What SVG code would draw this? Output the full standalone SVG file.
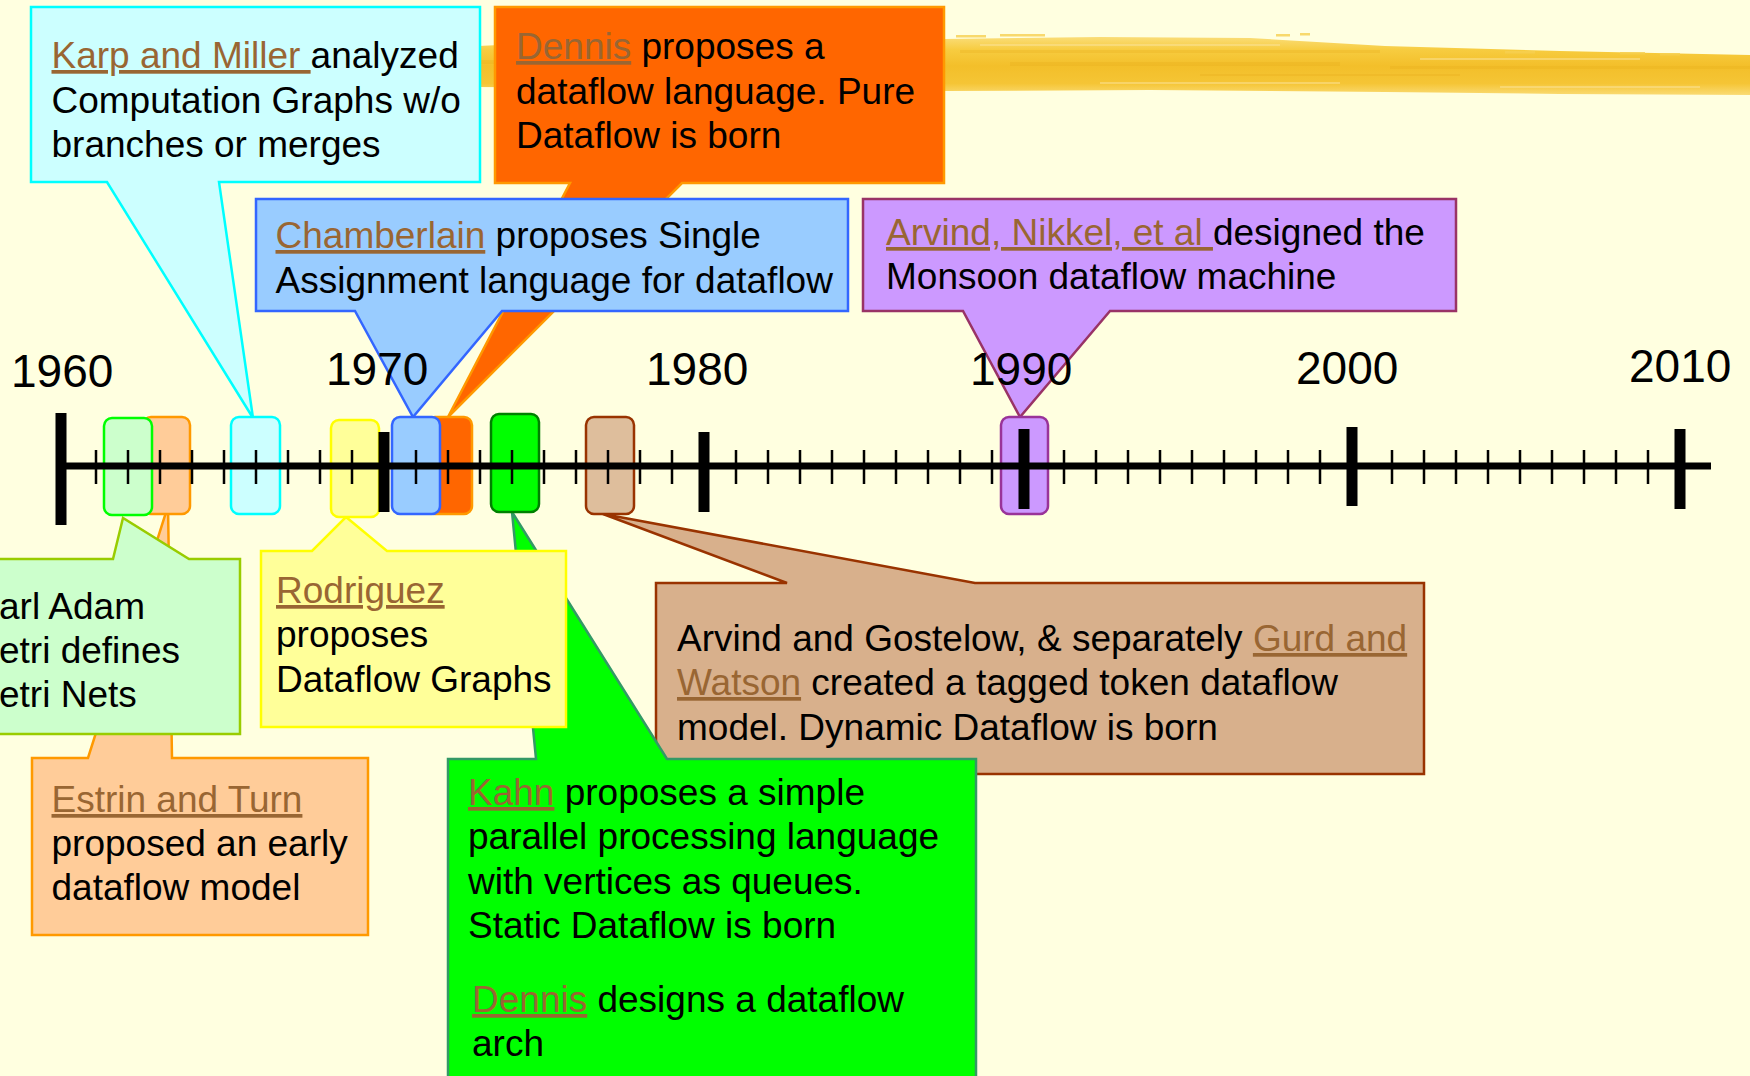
<svg xmlns="http://www.w3.org/2000/svg" width="1750" height="1076" viewBox="0 0 1750 1076">
  <defs>
    <linearGradient id="brushGrad" x1="0" y1="0" x2="0" y2="1">
      <stop offset="0" stop-color="#FADD78"/>
      <stop offset="0.22" stop-color="#F7CC40"/>
      <stop offset="0.5" stop-color="#F3BF2A"/>
      <stop offset="0.8" stop-color="#F5C535"/>
      <stop offset="1" stop-color="#FADB74"/>
    </linearGradient>
    <style>
      .t { font-family: "Liberation Sans", Arial, sans-serif; font-size: 37px; fill: #000; }
      .yr { font-family: "Liberation Sans", Arial, sans-serif; font-size: 46px; fill: #000; }
      .lnk { fill: #996633; text-decoration: underline; }
      .call { stroke-width: 2.5; stroke-linejoin: miter; }
      .mark { stroke-width: 2.5; }
    </style>
  </defs>

  <!-- page background -->
  <rect width="1750" height="1076" fill="#FFFFE0"/>

  <!-- dry-brush stroke across the top -->
  <g id="brush">
    <path d="M478,46 L560,42 L944,39 L1100,37 L1250,38 L1385,46 L1560,51 L1750,55 L1750,95 L1560,94 L1385,92 L1150,90 L944,91 L700,89 L478,87 Z" fill="url(#brushGrad)"/>
    <g fill="#E9AE1C" opacity="0.3">
      <rect x="960" y="50" width="420" height="3"/>
      <rect x="1010" y="62" width="330" height="4"/>
      <rect x="1390" y="66" width="360" height="3"/>
      <rect x="1200" y="74" width="260" height="2"/>
      <rect x="478" y="60" width="20" height="4"/>
    </g>
    <g fill="#FBE49C" opacity="0.5">
      <rect x="980" y="44" width="300" height="2"/>
      <rect x="1100" y="82" width="240" height="2"/>
      <rect x="1420" y="58" width="220" height="2"/>
      <rect x="1500" y="86" width="200" height="2"/>
    </g>
    <g fill="#F7D050" opacity="0.8">
      <rect x="956" y="35" width="30" height="2.5"/>
      <rect x="1000" y="34" width="45" height="2.5"/>
      <rect x="1276" y="34" width="14" height="2.5"/>
      <rect x="1300" y="33" width="10" height="2.5"/>
      <rect x="1505" y="51" width="30" height="2.5"/>
      <rect x="1620" y="52" width="25" height="2.5"/>
      <rect x="1660" y="53" width="20" height="2.5"/>
    </g>
  </g>

  <!-- callouts above the axis -->
  <g id="karp-miller">
    <path class="call" d="M31,7 H480 V182 H219 L253,418 L107,182 H31 Z" fill="#CCFFFF" stroke="#00FFFF"/>
    <rect class="mark" x="231" y="417" width="49" height="97" rx="8" fill="#CCFFFF" stroke="#00FFFF"/>
    <text class="t" x="51.5" y="68"><tspan class="lnk">Karp and Miller </tspan>analyzed</text>
    <text class="t" x="51.5" y="112.5">Computation Graphs w/o</text>
    <text class="t" x="51.5" y="157">branches or merges</text>
  </g>

  <g id="dennis-language">
    <path class="call" d="M495,7 H944 V183 H682 L448,417 L570,183 H495 Z" fill="#FF6600" stroke="#FF9900"/>
    <rect class="mark" x="427" y="417" width="45" height="97" rx="8" fill="#FF6600" stroke="#FF9900"/>
    <text class="t" x="516" y="59"><tspan class="lnk">Dennis</tspan> proposes a</text>
    <text class="t" x="516" y="103.5">dataflow language. Pure</text>
    <text class="t" x="516" y="148">Dataflow is born</text>
  </g>

  <g id="chamberlain">
    <path class="call" d="M256,199 H848 V311 H502 L413,417 L355,311 H256 Z" fill="#99CCFF" stroke="#3366FF"/>
    <rect class="mark" x="392" y="417" width="48" height="97" rx="8" fill="#99CCFF" stroke="#3366FF"/>
    <text class="t" x="275.5" y="248"><tspan class="lnk">Chamberlain</tspan> proposes Single</text>
    <text class="t" x="275.5" y="293">Assignment language for dataflow</text>
  </g>

  <g id="monsoon">
    <path class="call" d="M863,199 H1456 V311 H1110 L1020,417 L963,311 H863 Z" fill="#CC99FF" stroke="#993366"/>
    <rect class="mark" x="1001" y="417" width="47" height="97" rx="8" fill="#CC99FF" stroke="#993399"/>
    <text class="t" x="886" y="245"><tspan class="lnk">Arvind, Nikkel, et al </tspan>designed the</text>
    <text class="t" x="886" y="289">Monsoon dataflow machine</text>
  </g>

  <!-- callouts below the axis -->
  <g id="estrin-turn">
    <path class="call" d="M32,758 H88 L168,506 L172,758 H368 V935 H32 Z" fill="#FFCC99" stroke="#FF9900"/>
    <rect class="mark" x="143" y="417" width="47" height="97" rx="8" fill="#FFCC99" stroke="#FF9900"/>
    <text class="t" x="51.5" y="812"><tspan class="lnk">Estrin and Turn</tspan></text>
    <text class="t" x="51.5" y="856">proposed an early</text>
    <text class="t" x="51.5" y="900">dataflow model</text>
  </g>

  <g id="petri">
    <path class="call" d="M-5,559 H113 L123,518 L189,559 H240 V734 H-5 Z" fill="#CCFFCC" stroke="#99CC00"/>
    <rect class="mark" x="104" y="418" width="48" height="97" rx="8" fill="#CCFFCC" stroke="#00FF00"/>
    <text class="t" x="-1" y="619">arl Adam</text>
    <text class="t" x="-1" y="663">etri defines</text>
    <text class="t" x="-1" y="707">etri Nets</text>
  </g>

  <g id="tagged-token">
    <path class="call" d="M656,583 H787 L603,514 L975,583 H1424 V774 H656 Z" fill="#D8B08C" stroke="#993300"/>
    <rect class="mark" x="586" y="417" width="48" height="97" rx="8" fill="#DEBE9C" stroke="#993300"/>
    <text class="t" x="677" y="651">Arvind and Gostelow, &amp; separately <tspan class="lnk">Gurd and</tspan></text>
    <text class="t" x="677" y="695"><tspan class="lnk">Watson</tspan> created a tagged token dataflow</text>
    <text class="t" x="677" y="740">model. Dynamic Dataflow is born</text>
  </g>

  <g id="kahn">
    <path class="call" d="M448,759 H536 L512,512 L667,759 H976 V1090 H448 Z" fill="#00FF00" stroke="#339966"/>
    <rect class="mark" x="491" y="414" width="48" height="98" rx="8" fill="#00FF00" stroke="#008000"/>
    <text class="t" x="468" y="805"><tspan class="lnk">Kahn</tspan> proposes a simple</text>
    <text class="t" x="468" y="849">parallel processing language</text>
    <text class="t" x="468" y="894">with vertices as queues.</text>
    <text class="t" x="468" y="938">Static Dataflow is born</text>
    <text class="t" x="472" y="1012"><tspan class="lnk">Dennis</tspan> designs a dataflow</text>
    <text class="t" x="472" y="1056">arch</text>
  </g>

  <g id="rodriguez">
    <path class="call" d="M261,551 H312 L346,517 L387,551 H566 V727 H261 Z" fill="#FFFF99" stroke="#FFFF00"/>
    <rect class="mark" x="331" y="420" width="48" height="97" rx="8" fill="#FFFF99" stroke="#FFFF00"/>
    <text class="t" x="276" y="603"><tspan class="lnk">Rodriguez</tspan></text>
    <text class="t" x="276" y="647">proposes</text>
    <text class="t" x="276" y="692">Dataflow Graphs</text>
  </g>

  <!-- timeline axis with year and decade ticks -->
  <g id="timeline" stroke="#000" fill="none">
    <path d="M61,466 H1711" stroke-width="7"/>
    <path stroke-width="2.5" d="M96,450V484 M128,450V484 M160,450V484 M192,450V484 M224,450V484 M256,450V484 M288,450V484 M320,450V484 M352,450V484
      M416,450V484 M448,450V484 M480,450V484 M512,450V484 M544,450V484 M576,450V484 M608,450V484 M640,450V484 M672,450V484
      M736,450V484 M768,450V484 M800,450V484 M832,450V484 M864,450V484 M896,450V484 M928,450V484 M960,450V484 M992,450V484
      M1064,450V484 M1096,450V484 M1128,450V484 M1160,450V484 M1192,450V484 M1224,450V484 M1256,450V484 M1288,450V484 M1320,450V484
      M1392,450V484 M1424,450V484 M1456,450V484 M1488,450V484 M1520,450V484 M1552,450V484 M1584,450V484 M1616,450V484 M1648,450V484"/>
    <path stroke-width="11" d="M61,413V525 M384,432V512 M704,432V512 M1024,429V509 M1352,427V506 M1680,429V509"/>
  </g>

  <g id="years">
    <text class="yr" x="11" y="387">1960</text>
    <text class="yr" x="326" y="385">1970</text>
    <text class="yr" x="646" y="385">1980</text>
    <text class="yr" x="970" y="385">1990</text>
    <text class="yr" x="1296" y="384">2000</text>
    <text class="yr" x="1629" y="382">2010</text>
  </g>
</svg>
